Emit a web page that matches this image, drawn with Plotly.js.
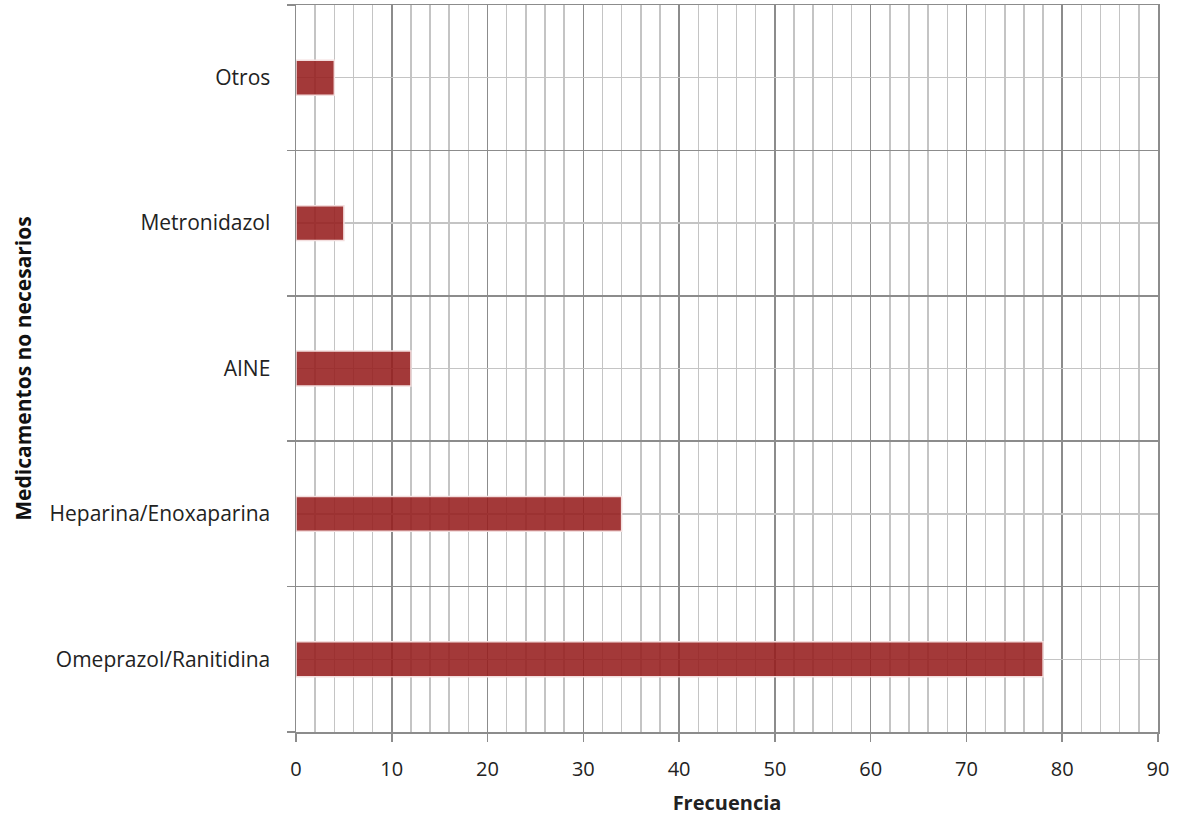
<!DOCTYPE html>
<html><head><meta charset="utf-8">
<script src="https://cdn.plot.ly/plotly-3.0.1.min.js"></script>
<style>html,body{margin:0;padding:0;background:#fff}#chart{width:1178px;height:816px}</style>
</head><body><div id="chart"></div>
<script>
const categories = ['Omeprazol/Ranitidina','Heparina/Enoxaparina','AINE','Metronidazol','Otros'];
const frecuencia = [78, 34, 12, 5, 4];
const xTicks = [0,10,20,30,40,50,60,70,80,90];

const font = "'Open Sans', 'Liberation Sans', sans-serif";
const trace = {
  type: 'bar', orientation: 'h',
  y: categories, x: frecuencia,
  width: 0.24,
  marker: {color: 'rgba(150,30,30,0.88)', line: {color: '#f3dede', width: 1.5}},
  hoverinfo: 'x+y'
};
// invisible companion trace that puts the centre grid axis on the same categories
const gridTrace = {
  type: 'scatter', mode: 'markers', y: categories, x: frecuencia,
  yaxis: 'y2', marker: {opacity: 0, size: 1}, hoverinfo: 'skip', showlegend: false
};
const layout = {
  width: 1178, height: 816,
  margin: {l: 296, r: 20, t: 5, b: 84},
  paper_bgcolor: '#fff', plot_bgcolor: '#fff',
  showlegend: false,
  font: {family: font, size: 20, color: '#222'},
  xaxis: {
    range: [0, 90], tickvals: xTicks, ticktext: xTicks.map(String),
    showgrid: true, gridcolor: '#8c8c8c', gridwidth: 1.5,
    minor: {dtick: 2, tick0: 0, showgrid: true, gridcolor: '#c4c4c4', gridwidth: 1.5},
    ticks: 'outside', ticklen: 8, tickcolor: '#8c8c8c', tickwidth: 1.5,
    showline: true, linecolor: '#8c8c8c', linewidth: 1.5, mirror: true,
    zeroline: false, ticklabelstandoff: 10,
    tickfont: {size: 20, color: '#222'},
    title: {text: 'Frecuencia', font: {size: 20, color: '#222', weight: 'bold'}, standoff: 16},
    fixedrange: true
  },
  yaxis: {
    type: 'category', categoryorder: 'array', categoryarray: categories,
    range: [-0.5, 4.5],
    tickson: 'boundaries', ticks: 'outside', ticklen: 8, tickcolor: '#8c8c8c', tickwidth: 1.5,
    showgrid: true, gridcolor: '#8c8c8c', gridwidth: 1.5,
    showline: true, linecolor: '#8c8c8c', linewidth: 1.5, mirror: true,
    ticklabelstandoff: 20,
    tickfont: {size: 21, color: '#222'},
    title: {text: 'Medicamentos no necesarios', font: {size: 21, color: '#111', weight: 'bold'}, standoff: 12},
    fixedrange: true
  },
  yaxis2: {
    type: 'category', categoryorder: 'array', categoryarray: categories,
    overlaying: 'y', range: [-0.5, 4.5],
    showticklabels: false, ticks: '', showgrid: true, gridcolor: '#c4c4c4', gridwidth: 1.5,
    zeroline: false, showline: false, fixedrange: true
  }
};
Plotly.newPlot('chart', [gridTrace, trace], layout, {displayModeBar: false, staticPlot: true});
</script></body></html>
